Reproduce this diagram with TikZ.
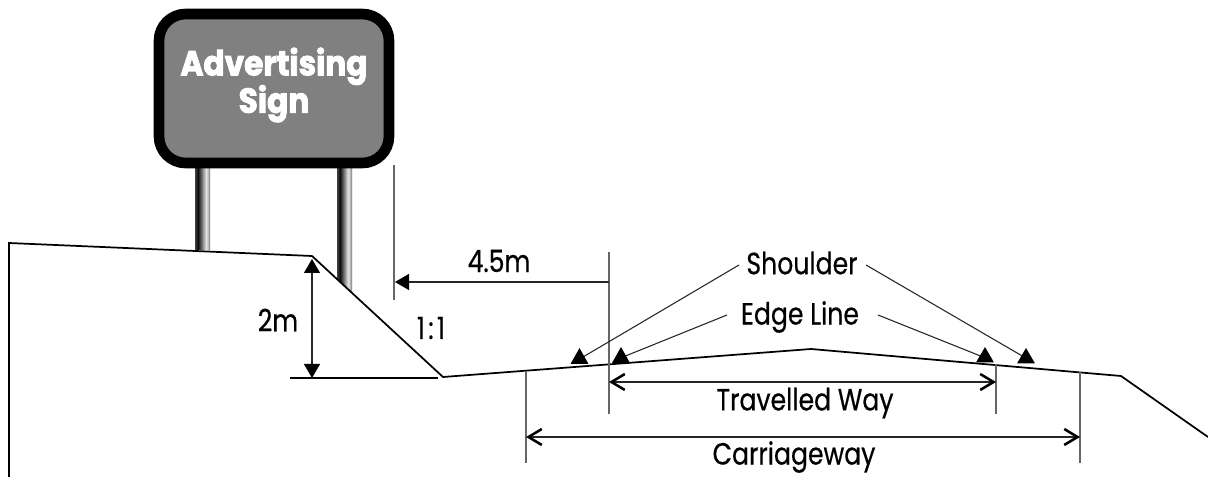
\documentclass[tikz,border=0pt]{standalone}
\usepackage{fontspec}
\setmainfont{Poppins}
\newfontfamily\labfont[FakeStretch=0.82,FakeBold=0.5]{Poppins}
\newfontfamily\signfont[FakeStretch=0.9,FakeBold=2.5]{Poppins Bold}
\usetikzlibrary{arrows.meta}
\pgfdeclarehorizontalshading{poleshade}{100bp}{color(0bp)=(black!75); color(25bp)=(black!75); color(35bp)=(black!95); color(62bp)=(black!10); color(71bp)=(black!35); color(75bp)=(black!65); color(100bp)=(black!65)}
\tikzset{
  dimline/.style={draw=black!85,line width=0.8pt},
  extline/.style={draw=black!60,line width=1pt},
  ground/.style={draw=black,line width=1.3pt,line join=miter},
  solidtip/.style={-{Triangle[width=12pt,length=10.5pt,color=black,fill=black]}},
  bothsolid/.style={{Triangle[width=12pt,length=10.5pt,color=black,fill=black]}-{Triangle[width=12pt,length=10.5pt,color=black,fill=black]}},
  opentip/.style={{Straight Barb[length=10pt,width=12pt,line width=1.9pt,color=black]}-{Straight Barb[length=10pt,width=12pt,line width=1.9pt,color=black]}},
  lab/.style={font=\labfont\fontsize{23}{28}\selectfont,inner sep=0pt,text=black},
  tick/.style={fill=black,draw=none},
  post/.style={shading=poleshade}
}
\begin{document}
\begin{tikzpicture}[x=0.75pt,y=-0.75pt]
\useasboundingbox (0,0) rectangle (1208,477);
% posts
\shade[post] (195,165) rectangle (210,250);
\shade[post] (337,165) -- (352,165) -- (352,293) -- (337,279) -- cycle;
% sign
\draw[line width=8pt,fill=black!50,rounded corners=20pt] (159,14) rectangle (389,163);
\node[font=\signfont\fontsize{26}{28}\selectfont,text=white,align=center,inner sep=0pt] (sign) at (274,85) {Advertising\\Sign};
% ground
\coordinate (g0) at (9,477);
\coordinate (g1) at (9,243);
\coordinate (g2) at (312,256);
\coordinate (g3) at (443,377);
\coordinate (g4) at (811,349);
\coordinate (g5) at (1121,376);
\coordinate (g6) at (1208,437);
\draw[ground] (g0) -- (g1) -- (g2) -- (g3) -- (g4) -- (g5) -- (g6);
% 2m
\coordinate (h0) at (290,378);
\coordinate (h1) at (438,378);
\coordinate (v0) at (312,259);
\coordinate (v1) at (312,378);
\draw[ground,line width=1pt] (h0) -- (h1);
\draw[dimline,bothsolid] (v0) -- (v1);
\node[lab] (twom) at (278,320) {2m};
\node[lab] (slope) at (431,328) {1\hspace{2.5pt}:\hspace{2.5pt}1};
% 4.5m
\coordinate (a0) at (394,165);
\coordinate (a1) at (394,300);
\coordinate (b0) at (609,252);
\coordinate (b1) at (609,414);
\coordinate (am) at (395,282);
\coordinate (bm) at (609,282);
\draw[extline] (a0) -- (a1);
\draw[extline] (b0) -- (b1);
\draw[dimline,solidtip] (bm) -- (am);
\node[lab] (fourfive) at (499,261) {4.5m};
% shoulder
\node[lab] (shoulder) at (802,263) {Shoulder};
\coordinate (s1) at (583,357);
\coordinate (s2) at (1024,357);
\draw[dimline] (739,265) -- (s1);
\draw[dimline] (866,265) -- (s2);
\fill[tick] (579.5,348) -- (588.5,364) -- (570.5,364) -- cycle;
\fill[tick] (1026,348) -- (1035,363.5) -- (1017,363.5) -- cycle;
% edge line
\node[lab] (edge) at (800,317) {Edge Line};
\coordinate (e1) at (623,357);
\coordinate (e2) at (983,357);
\draw[dimline] (727,315) -- (e1);
\draw[dimline] (878,315) -- (e2);
\fill[tick] (621,347) -- (630,363) -- (612,363) -- cycle;
\fill[tick] (985,347) -- (994,362.5) -- (976,362.5) -- cycle;
% travelled way
\coordinate (t1) at (996,364);
\coordinate (t2) at (996,414);
\draw[extline] (t1) -- (t2);
\draw[dimline,opentip] (609,382) -- (996,382);
\node[lab] (tw) at (805,403) {Travelled Way};
% carriageway
\coordinate (c1) at (526,372);
\coordinate (c2) at (526,463);
\coordinate (d1) at (1080,372);
\coordinate (d2) at (1080,463);
\draw[extline] (c1) -- (c2);
\draw[extline] (d1) -- (d2);
\draw[dimline,opentip] (526,437) -- (1080,437);
\node[lab] (cw) at (794,457) {Carriageway};
\end{tikzpicture}
\end{document}
